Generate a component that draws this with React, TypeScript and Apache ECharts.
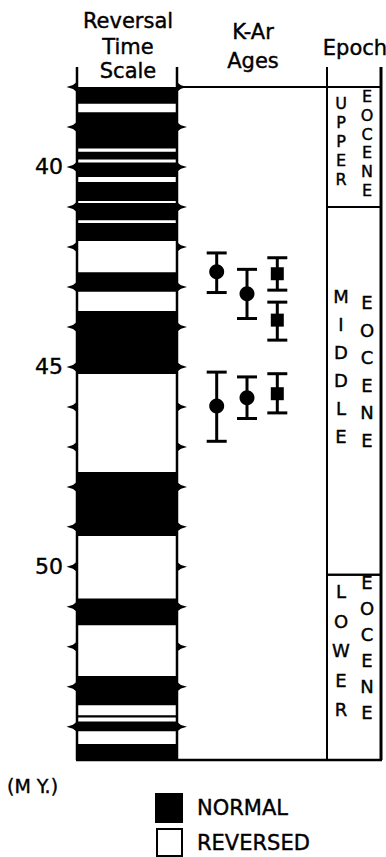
import React, { useEffect, useRef } from "react";
import * as echarts from "echarts";

// ---------- data ----------
const ageTicks = [38, 39, 40, 41, 42, 43, 44, 45, 46, 47, 48, 49, 50, 51, 52, 53, 54];
const ageLabels = [40, 45, 50];
const ageMin = 38;
const ageMax = 54.83;

// normal polarity intervals (M.Y.), reversed is the remainder
const normalStart = [38.0, 38.63, 39.62, 39.89, 40.375, 40.9, 41.4, 42.63, 43.6, 47.63, 50.79, 52.73, 53.71, 53.87, 54.43];
const normalEnd = [38.42, 39.54, 39.81, 40.25, 40.85, 41.33, 41.85, 43.12, 45.18, 49.23, 51.46, 53.46, 53.77, 54.11, 54.83];

// K-Ar ages
const karColumn = [1, 2, 3, 3, 1, 2, 3];
const karAge = [42.62, 43.17, 42.67, 43.83, 45.98, 45.77, 45.67];
const karLow = [42.15, 42.56, 42.27, 43.38, 45.13, 45.25, 45.17];
const karHigh = [43.14, 43.79, 43.08, 44.33, 46.86, 46.29, 46.15];
const karMarker = ["circle", "circle", "square", "square", "circle", "circle", "square"];

// epochs
const epochNames = ["UPPER", "MIDDLE", "LOWER"];
const epochSeriesName = "EOCENE";
const epochStart = [38, 41, 50.2];
const epochEnd = [41, 50.2, 54.83];

const headerReversal = ["Reversal", "Time", "Scale"];
const headerKAr = ["K-Ar", "Ages"];
const headerEpoch = "Epoch";
const unitLabel = "(M Y.)";
const legendNormal = "NORMAL";
const legendReversed = "REVERSED";

// ---------- layout ----------
const FONT = "DejaVu Sans";
const TOP = 87;
const BOTTOM = 760;
const X0 = 77; // reversal column left
const X1 = 177; // reversal column right / K-Ar left
const X2 = 327; // epoch left
const X3 = 381; // epoch right
const HEADER_TOP = 67;
const THICK = { stroke: "#000", lineWidth: 0.4 };

// letter layout in epoch boxes: [leftOffset, leftStep, rightOffset, rightStep, leftSize, rightSize]
const epochTextLayout = [
  [16, 19, 9.5, 18.8, 16, 16],
  [90, 28, 96, 27.5, 18, 18],
  [17, 29.5, 8, 26, 18, 18],
];

function txt(text: string, x: number, y: number, size: number, align = "center") {
  return {
    type: "text",
    x,
    y,
    style: {
      text,
      fontSize: size,
      fontFamily: FONT,
      fill: "#000",
      align,
      verticalAlign: "middle",
      ...THICK,
    },
  };
}

export default function App() {
  const ref = useRef<HTMLDivElement>(null);

  useEffect(() => {
    if (!ref.current) return;
    const chart = echarts.init(ref.current, undefined, { renderer: "svg" });

    const gridH = BOTTOM - TOP;

    const yBase = {
      type: "value",
      inverse: true,
      min: ageMin,
      max: ageMax,
      interval: 1,
      splitLine: { show: false },
      axisTick: { show: false },
      axisLine: { show: false },
    };

    const option: any = {
      animation: false,
      backgroundColor: "#ffffff",
      grid: [
        { left: X0, top: TOP, width: X1 - X0, height: gridH },
        { left: X1, top: TOP, width: X2 - X1, height: gridH },
        { left: X2, top: TOP, width: X3 - X2, height: gridH },
      ],
      xAxis: [
        { type: "value", gridIndex: 0, min: 0, max: 1, show: false },
        { type: "value", gridIndex: 1, min: -0.31, max: 4.64, show: false },
        { type: "value", gridIndex: 2, min: 0, max: 1, show: false },
      ],
      yAxis: [
        {
          ...yBase,
          gridIndex: 0,
          axisLabel: {
            show: true,
            margin: 14,
            fontSize: 22,
            fontFamily: FONT,
            color: "#000",
            textBorderColor: "#000",
            textBorderWidth: 0.4,
            formatter: (v: number) => (ageLabels.indexOf(v) >= 0 ? String(v) : ""),
          },
        },
        { ...yBase, gridIndex: 1, axisLabel: { show: false } },
        { ...yBase, gridIndex: 2, axisLabel: { show: false } },
      ],
      series: [
        // normal polarity bands
        {
          type: "custom",
          xAxisIndex: 0,
          yAxisIndex: 0,
          data: normalStart.map((s, i) => [0.5, s, normalEnd[i]]),
          encode: { x: 0, y: [1, 2] },
          renderItem: (params: any, api: any) => {
            const cs = params.coordSys;
            const a = api.coord([0, api.value(1)]);
            const b = api.coord([0, api.value(2)]);
            return {
              type: "rect",
              shape: { x: cs.x, y: a[1], width: cs.width, height: b[1] - a[1] },
              style: { fill: "#000" },
            };
          },
        },
        // wedge ticks on both sides
        {
          type: "custom",
          xAxisIndex: 0,
          yAxisIndex: 0,
          data: ageTicks.map((t) => [0.5, t]),
          encode: { x: 0, y: 1 },
          renderItem: (params: any, api: any) => {
            const cs = params.coordSys;
            const y = api.coord([0, api.value(1)])[1];
            const l = cs.x;
            const r = cs.x + cs.width;
            return {
              type: "group",
              children: [
                {
                  type: "polygon",
                  shape: {
                    points: [
                      [l + 1, y - 6],
                      [l - 4, y - 2],
                      [l - 10.5, y],
                      [l - 4, y + 2],
                      [l + 1, y + 6],
                    ],
                  },
                  style: { fill: "#000" },
                },
                {
                  type: "polygon",
                  shape: {
                    points: [
                      [r - 1, y - 5.5],
                      [r + 4, y - 1.8],
                      [r + 10, y],
                      [r + 4, y + 1.8],
                      [r - 1, y + 5.5],
                    ],
                  },
                  style: { fill: "#000" },
                },
              ],
            };
          },
        },
        // K-Ar error bars
        {
          type: "custom",
          xAxisIndex: 1,
          yAxisIndex: 1,
          data: karColumn.map((c, i) => [c, karLow[i], karHigh[i]]),
          encode: { x: 0, y: [1, 2] },
          renderItem: (params: any, api: any) => {
            const lo = api.coord([api.value(0), api.value(1)]);
            const hi = api.coord([api.value(0), api.value(2)]);
            const hw = 10;
            const st = { stroke: "#000", lineWidth: 3 };
            return {
              type: "group",
              children: [
                { type: "line", shape: { x1: lo[0], y1: lo[1], x2: hi[0], y2: hi[1] }, style: st },
                { type: "line", shape: { x1: lo[0] - hw, y1: lo[1], x2: lo[0] + hw, y2: lo[1] }, style: st },
                { type: "line", shape: { x1: hi[0] - hw, y1: hi[1], x2: hi[0] + hw, y2: hi[1] }, style: st },
              ],
            };
          },
        },
        {
          type: "scatter",
          xAxisIndex: 1,
          yAxisIndex: 1,
          symbol: "circle",
          symbolSize: 15,
          itemStyle: { color: "#000", opacity: 1 },
          data: karColumn
            .map((c, i) => (karMarker[i] === "circle" ? [c, karAge[i]] : null))
            .filter((d) => d !== null),
        },
        {
          type: "scatter",
          xAxisIndex: 1,
          yAxisIndex: 1,
          symbol: "rect",
          symbolSize: 13,
          itemStyle: { color: "#000", opacity: 1 },
          data: karColumn
            .map((c, i) => (karMarker[i] === "square" ? [c, karAge[i]] : null))
            .filter((d) => d !== null),
        },
        // epochs
        {
          type: "custom",
          xAxisIndex: 2,
          yAxisIndex: 2,
          data: epochStart.map((s, i) => [0.5, s, epochEnd[i]]),
          encode: { x: 0, y: [1, 2] },
          renderItem: (params: any, api: any) => {
            const cs = params.coordSys;
            const i = params.dataIndex;
            const a = api.coord([0, api.value(1)]);
            const b = api.coord([0, api.value(2)]);
            const lay = epochTextLayout[i];
            const children: any[] = [
              {
                type: "rect",
                shape: { x: cs.x, y: a[1], width: cs.width, height: b[1] - a[1] },
                style: { fill: "none", stroke: "#000", lineWidth: 2 },
              },
            ];
            const name = epochNames[i];
            for (let k = 0; k < name.length; k++) {
              children.push(txt(name[k], cs.x + 14, a[1] + lay[0] + k * lay[1], lay[4]));
            }
            for (let k = 0; k < epochSeriesName.length; k++) {
              children.push(txt(epochSeriesName[k], cs.x + 40, a[1] + lay[2] + k * lay[3], lay[5]));
            }
            return { type: "group", children };
          },
        },
      ],
      graphic: [
        // frame
        { type: "line", shape: { x1: X0, y1: HEADER_TOP, x2: X0, y2: BOTTOM }, style: { stroke: "#000", lineWidth: 2.5 } },
        { type: "line", shape: { x1: X1, y1: HEADER_TOP, x2: X1, y2: BOTTOM }, style: { stroke: "#000", lineWidth: 2.5 } },
        { type: "line", shape: { x1: X2, y1: HEADER_TOP, x2: X2, y2: BOTTOM }, style: { stroke: "#000", lineWidth: 2 } },
        { type: "line", shape: { x1: X3, y1: HEADER_TOP, x2: X3, y2: BOTTOM }, style: { stroke: "#000", lineWidth: 3 } },
        { type: "line", shape: { x1: X1, y1: TOP, x2: X3, y2: TOP }, style: { stroke: "#000", lineWidth: 2 } },
        { type: "line", shape: { x1: X0 - 1, y1: BOTTOM, x2: X3 + 1, y2: BOTTOM }, style: { stroke: "#000", lineWidth: 2.5 } },
        // headers
        ...headerReversal.map((t, i) => txt(t, 128, [21, 47, 71][i], 21)),
        ...headerKAr.map((t, i) => txt(t, 253, [32, 61][i], 21)),
        txt(headerEpoch, 355, 48, 21),
        txt(unitLabel, 7, 786, 19, "left"),
        // legend
        { type: "rect", shape: { x: 155, y: 793, width: 28, height: 30 }, style: { fill: "#000" } },
        { type: "rect", shape: { x: 157, y: 829, width: 25, height: 27 }, style: { fill: "#fff", stroke: "#000", lineWidth: 2 } },
        txt(legendNormal, 197, 808, 21, "left"),
        txt(legendReversed, 197, 843, 21, "left"),
      ],
    };

    chart.setOption(option);
    return () => chart.dispose();
  }, []);

  return (
    <div
      ref={ref}
      style={{ position: "absolute", left: 0, top: 0, width: 386, height: 857 }}
    />
  );
}
